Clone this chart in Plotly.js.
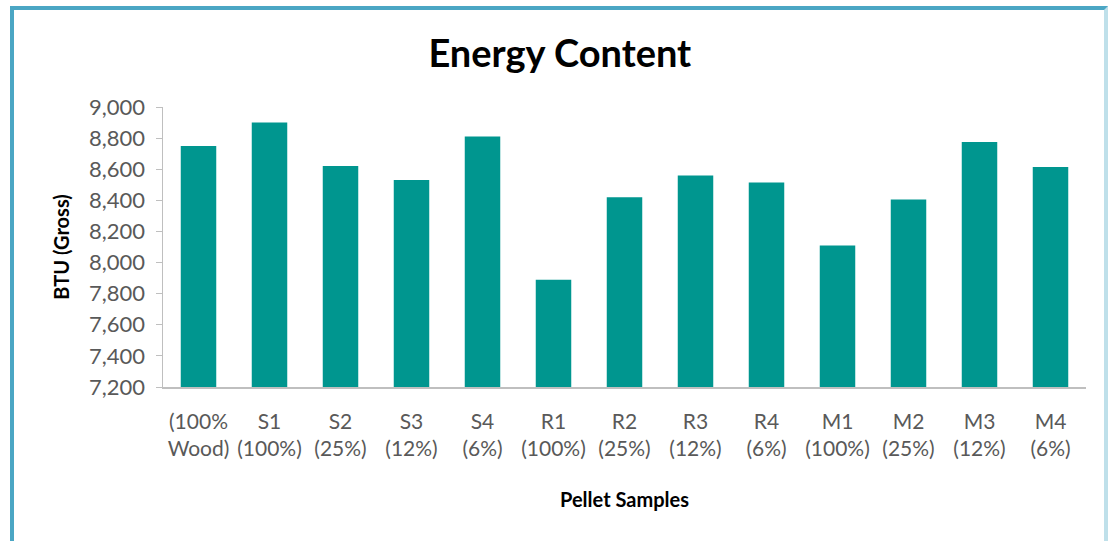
<!DOCTYPE html>
<html>
<head>
<meta charset="utf-8">
<script src="https://cdn.plot.ly/plotly-3.0.1.min.js"></script>
<style>
  html, body { margin: 0; padding: 0; background: #ffffff; }
  #chart { position: absolute; left: 0; top: 0; width: 1113px; height: 541px; }
  #frame { position: absolute; left: 10px; top: 6px; width: 1090px; height: 540px;
           border: 4px solid #4BA6C4; border-bottom: none; border-right-color: #BFE0EA; pointer-events: none; }
</style>
</head>
<body>
<div id="chart"></div>
<div id="frame"></div>
<script>
const categories = ["(100%<br>Wood)", "S1<br>(100%)", "S2<br>(25%)", "S3<br>(12%)", "S4<br>(6%)",
                    "R1<br>(100%)", "R2<br>(25%)", "R3<br>(12%)", "R4<br>(6%)",
                    "M1<br>(100%)", "M2<br>(25%)", "M3<br>(12%)", "M4<br>(6%)"];
const btuGross = [8750, 8900, 8620, 8530, 8810, 7890, 8420, 8560, 8515, 8110, 8405, 8775, 8615];
const yTicks = [7200, 7400, 7600, 7800, 8000, 8200, 8400, 8600, 8800, 9000];

const font = "Lato, 'Open Sans', sans-serif";

const trace = {
  type: "bar",
  x: categories,
  y: btuGross,
  marker: { color: "#00968F" },
  hoverinfo: "x+y"
};

const layout = {
  width: 1113,
  height: 541,
  margin: { l: 163, r: 27, t: 107, b: 154 },
  paper_bgcolor: "#ffffff",
  plot_bgcolor: "#ffffff",
  bargap: 0.5,
  showlegend: false,
  separators: ".,",
  title: {
    text: "<b>Energy Content</b>",
    font: { family: font, size: 38, color: "#000000" },
    x: 0.503, xanchor: "center",
    y: 0.9, yanchor: "middle", yref: "container"
  },
  xaxis: {
    type: "category",
    showline: true, linecolor: "#BFBFBF", linewidth: 1.5,
    ticks: "", showgrid: false, zeroline: false,
    tickfont: { family: font, size: 21, color: "#595959" },
    ticklabelstandoff: 15,
    title: { text: "<b>Pellet Samples</b>", font: { family: font, size: 20, color: "#000000" }, standoff: 34 }
  },
  yaxis: {
    range: [7200, 9000],
    tickvals: yTicks,
    tickformat: ",d",
    showline: true, linecolor: "#BFBFBF", linewidth: 1.5,
    ticks: "outside", ticklen: 6, tickcolor: "#BFBFBF",
    showgrid: false, zeroline: false,
    tickfont: { family: font, size: 22, color: "#595959" },
    ticklabelstandoff: 6,
    title: { text: "<b>BTU (Gross)</b>", font: { family: font, size: 20, color: "#000000" }, standoff: 14 }
  }
};

Plotly.newPlot("chart", [trace], layout, { displayModeBar: false, staticPlot: true });
</script>
</body>
</html>
